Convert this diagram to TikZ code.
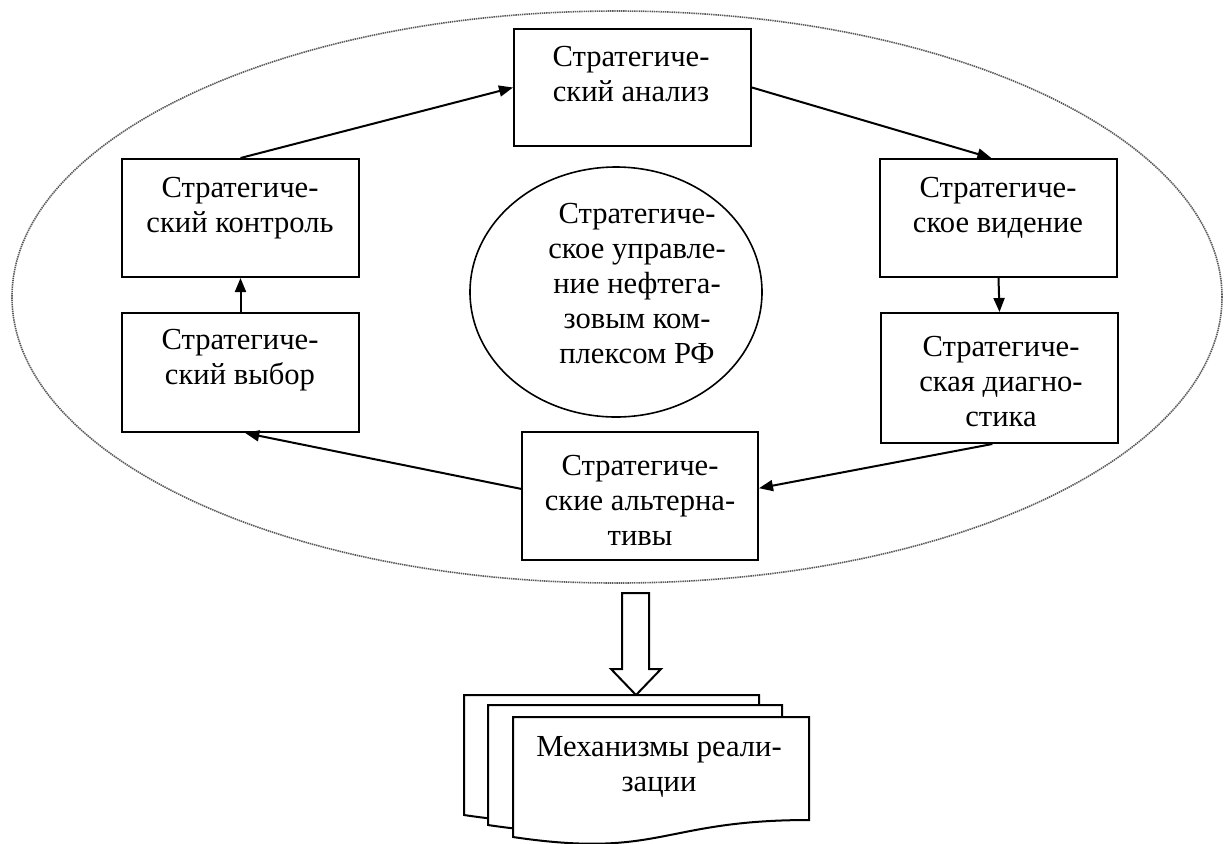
\documentclass[tikz,border=0pt]{standalone}
\usepackage{fontspec}
\setmainfont{Liberation Serif}
\usetikzlibrary{shapes.geometric,arrows.meta,calc}
\newcommand\docpage[3]{%
  \filldraw[docline] (#1,#3) -- (#2,#3) -- (#2,#3+103)
    .. controls ({(#1+#2)/2},#3+103) and ({(#1+#2)/2},#3+142) .. (#1,#3+120) -- cycle;}
\begin{document}
\begin{tikzpicture}[x=0.5pt,y=-0.5pt,
  stepbox/.style={draw,line width=1pt,inner sep=0pt,minimum width=118.5pt},
  lbl/.style={align=center,inner sep=0pt,anchor=north,font=\fontsize{15.3}{17.5}\selectfont},
  conn/.style={line width=1pt,-{Triangle[length=7pt,width=5.5pt]}},
  docline/.style={line width=1pt,fill=white,draw=black},
]
\useasboundingbox (0,0) rectangle (1226,843);
% outer dotted ellipse
\node[draw=black!65,ellipse,dash pattern=on 0.7pt off 0.4pt,line width=0.8pt,
      minimum width=605pt,minimum height=286pt,inner sep=0pt] (outer) at (617,297) {};
% central ellipse
\node[draw,ellipse,line width=0.8pt,minimum width=146pt,minimum height=125pt,inner sep=0pt] (core) at (616,292) {};
\node[lbl] (coret) at (637,199) {\strut Стратегиче-\\ское управле-\\ние нефтега-\\зовым ком-\\плексом РФ};
% boxes
\node[stepbox,minimum height=58.5pt] (ana) at (632.5,87.5) {};
\node[stepbox,minimum height=59pt] (ctrl) at (240.5,218) {};
\node[stepbox,minimum height=59.5pt] (cho) at (240.5,372.5) {};
\node[stepbox,minimum height=59pt] (vis) at (998.5,218) {};
\node[stepbox,minimum height=65pt] (dia) at (999.5,378) {};
\node[stepbox,minimum height=64pt,minimum width=118pt] (alt) at (640,496) {};
% texts
\node[lbl] (anat) at (631,42) {\strut Стратегиче-\\ский анализ};
\node[lbl] (ctrlt) at (240,172.5) {\strut Стратегиче-\\ский контроль};
\node[lbl] (vist) at (998,172.5) {\strut Стратегиче-\\ское видение};
\node[lbl] (chot) at (240,325) {\strut Стратегиче-\\ский выбор};
\node[lbl] (diat) at (1001,332) {\strut Стратегиче-\\ская диагно-\\стика};
\node[lbl] (altt) at (640,451) {\strut Стратегиче-\\ские альтерна-\\тивы};
% connectors
\draw[conn] (ctrl.north) -- (ana.west);
\draw[conn] (ana.east) -- ($(vis.north west)!0.47!(vis.north east)$);
\draw[conn] (vis.south) -- (dia.north);
\draw[conn] ($(dia.south west)!0.47!(dia.south east)$) -- ($(alt.north east)!0.44!(alt.south east)$);
\draw[conn] ($(alt.north west)!0.445!(alt.south west)$) -- ($(cho.south west)!0.52!(cho.south east)$);
\draw[conn] (cho.north) -- (ctrl.south);
% hollow arrow
\coordinate (hatop) at (635.5,593);
\coordinate (hatip) at (636,695);
\draw[line width=1pt,fill=white] ([xshift=-6.75pt]hatop) -- ([xshift=6.75pt]hatop)
  -- (649,669) -- (661,669) -- (hatip) -- (611,669) -- (622,669) -- cycle;
% multi-document
\docpage{464}{759}{695}
\docpage{488}{782}{705}
\docpage{513}{809}{717}
\node[lbl] (doct) at (659,732) {\strut Механизмы реали-\\зации};
\end{tikzpicture}
\end{document}
